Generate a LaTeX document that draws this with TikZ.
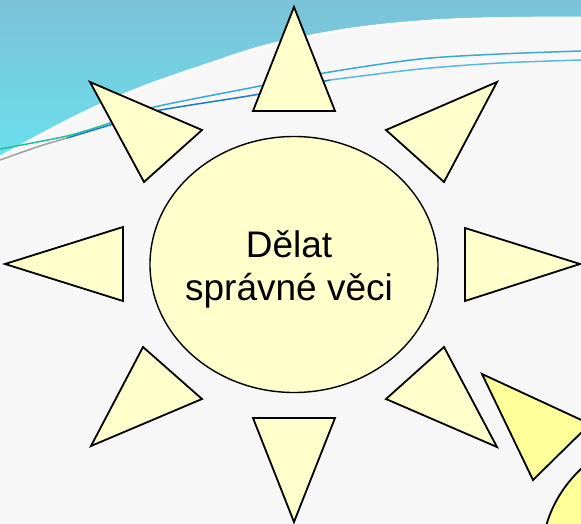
\documentclass[tikz,border=0pt]{standalone}
\usepackage{fontspec}
\setmainfont{Liberation Sans}
\definecolor{sunpale}{HTML}{FFFFCC}
\definecolor{sundeep}{HTML}{FFFF99}
\definecolor{bgpaper}{HTML}{F7F7F7}
\definecolor{tealtop}{HTML}{7CC2D8}
\definecolor{tealbot}{HTML}{6ADFEC}
\definecolor{linegreen}{HTML}{1FC2A0}
\definecolor{lineteal}{HTML}{3AA9D2}
\definecolor{lineblue}{HTML}{1F78C8}
\definecolor{linelight}{HTML}{5AB9E0}
\definecolor{linegray}{HTML}{A0A0A0}
\tikzset{
  ray/.style={draw=black, line width=1.8pt, line join=miter, fill=sunpale},
  raydeep/.style={ray, fill=sundeep},
  core/.style={draw=black, line width=1.4pt, fill=sunpale},
  swoosh/.style={line width=1.5pt},
  caption/.style={font=\fontsize{37}{43}\selectfont, text=black, inner sep=0pt, anchor=base}
}
\begin{document}
\begin{tikzpicture}[x=1pt,y=-1pt]
\useasboundingbox (0,0) rectangle (581,524);
% background
\fill[bgpaper] (0,0) rectangle (581,524);
\shade[top color=tealtop, bottom color=tealbot]
  (0,0) -- (581,0) -- (581,17)
  -- plot[smooth, tension=0.7] coordinates {(581,17) (430,20) (300,37) (200,66) (100,104) (0,156)}
  -- cycle;
\draw[white, line width=2.5pt] plot[smooth, tension=0.7] coordinates {(581,18) (430,21) (300,38) (200,67) (100,105) (0,157)};
% swoosh lines
\draw[swoosh, linegreen] plot[smooth] coordinates {(0,149) (67,136) (110,123)};
\draw[swoosh, lineteal] plot[smooth] coordinates {(110,123) (150,108) (260,86) (330,72) (420,59) (500,54) (581,51)};
\draw[swoosh, linegray] plot[smooth] coordinates {(0,160) (40,146) (67,138)};
\draw[swoosh, lineblue] plot[smooth] coordinates {(67,138) (110,125) (150,112) (260,94) (330,80)};
\draw[swoosh, linelight] plot[smooth] coordinates {(330,80) (420,69) (500,63) (581,60)};
% second sun (partly visible)
\draw[raydeep] (482,374) -- (590,424) -- (533,480) -- cycle;
\draw[raydeep] (686,556.5) ellipse [x radius=144, y radius=128];
% main sun rays
\draw[ray] (294,7) -- (335,111) -- (253,111) -- cycle;
\draw[ray] (294,522) -- (253,418) -- (335,418) -- cycle;
\draw[ray] (5,264) -- (123,227) -- (123,301) -- cycle;
\draw[ray] (580,264) -- (465,228) -- (465,301) -- cycle;
\draw[ray] (90,82) -- (202,130) -- (144,182) -- cycle;
\draw[ray] (497,82) -- (386,130) -- (444,182) -- cycle;
\draw[ray] (91,446) -- (202,399) -- (143,347) -- cycle;
\draw[ray] (497,447) -- (386,399) -- (444,347) -- cycle;
% core
\draw[core] (294,264.5) ellipse [x radius=144, y radius=128];
\node[caption] (line1) at (289,257) {Dělat};
\node[caption] (line2) at (289,300) {správné věci};
\end{tikzpicture}
\end{document}
